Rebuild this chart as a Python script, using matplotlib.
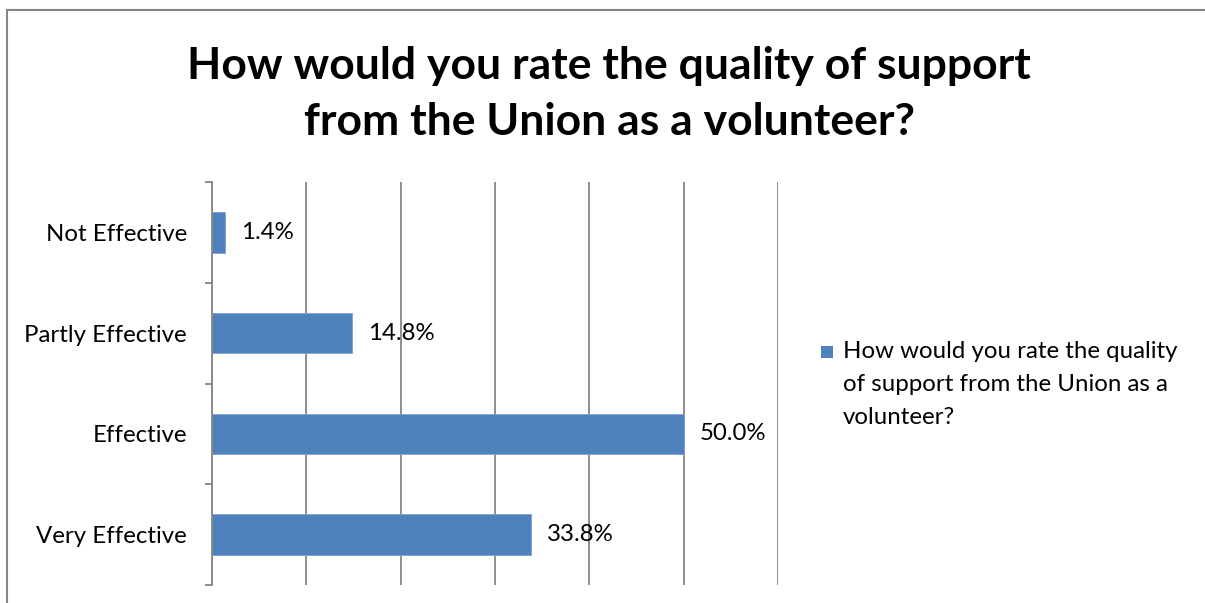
import matplotlib
matplotlib.use("Agg")
import matplotlib.pyplot as plt
from matplotlib.lines import Line2D
from matplotlib.patches import Rectangle

categories = ["Very Effective", "Effective", "Partly Effective", "Not Effective"]
values = [33.8, 50.0, 14.8, 1.4]
title = "How would you rate the quality of support\nfrom the Union as a volunteer?"
series_name = "How would you rate the quality\nof support from the Union as a\nvolunteer?"

W, H = 1205, 603
plt.rcParams["font.family"] = ["Lato", "DejaVu Sans"]
fig = plt.figure(figsize=(W / 100, H / 100), dpi=100)

BAR = "#4F81BD"
GRID = "#868686"
FS = 17.3

ax = fig.add_axes([212 / W, 18 / H, (778 - 212) / W, (585 - 182) / H])
y = list(range(len(categories)))
ax.barh(y, values, height=0.4, color=BAR, edgecolor="#7FA1CF", linewidth=0.6, zorder=3)
ax.set_xlim(0, 60)
ax.set_ylim(-0.5, len(categories) - 0.5)

ax.set_xticks(range(0, 61, 10))
ax.xaxis.grid(True, color=GRID, linewidth=1.3)
ax.tick_params(axis="x", length=0, labelbottom=False)

ax.set_yticks(y)
ax.set_yticklabels(categories, fontsize=FS)
ax.set_yticks([i - 0.5 for i in range(len(categories) + 1)], minor=True)
ax.tick_params(axis="y", which="major", length=0, pad=18)
ax.tick_params(axis="y", which="minor", length=5, width=1.3, color=GRID, direction="out")

for s in ["top", "right", "bottom"]:
    ax.spines[s].set_visible(False)
ax.spines["left"].set_color(GRID)
ax.spines["left"].set_linewidth(1.3)
ax.spines["left"].set_zorder(4)

for yi, v in zip(y, values):
    ax.annotate(f"{v:.1f}%", xy=(v, yi), xytext=(11.5, 0), textcoords="offset points",
                ha="left", va="center", fontsize=FS)

fig.text(609 / W, 1 - 94 / H, title, ha="center", va="center", fontsize=32,
         fontweight="bold", linespacing=1.5)

# legend key and text
fig.patches.append(Rectangle((821 / W, 1 - 358 / H), 12 / W, 12 / H, transform=fig.transFigure,
                             facecolor=BAR, edgecolor="none"))
fig.text(843 / W, 1 - 341 / H, series_name, ha="left", va="top", fontsize=FS, linespacing=1.7)

# outer frame
fig.add_artist(Line2D([7 / W, 7 / W], [0, 1 - 10 / H], color=GRID, linewidth=1.5, transform=fig.transFigure))
fig.add_artist(Line2D([7 / W, 1], [1 - 10 / H, 1 - 10 / H], color=GRID, linewidth=1.5, transform=fig.transFigure))

fig.savefig("out.png", dpi=100)
